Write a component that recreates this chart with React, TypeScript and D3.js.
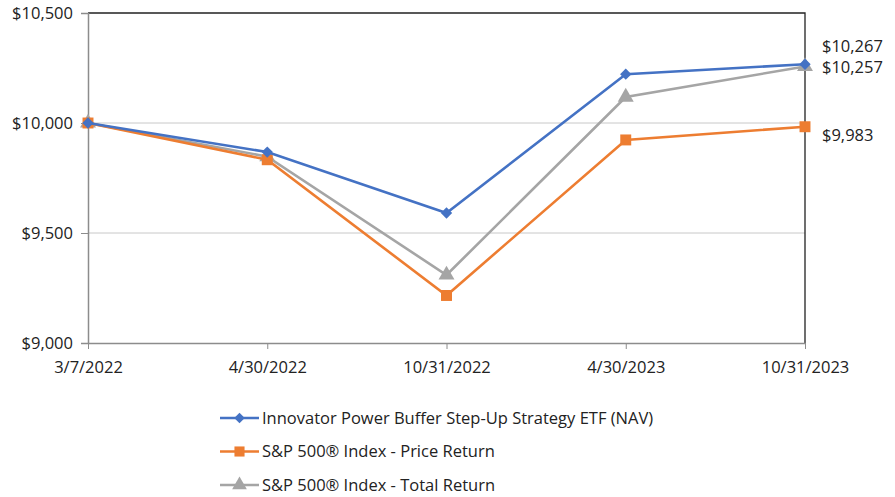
import * as d3 from 'd3';
import { useEffect, useRef } from 'react';

const dates = ['3/7/2022', '4/30/2022', '10/31/2022', '4/30/2023', '10/31/2023'];
const navValues = [10000, 9868, 9591, 10222, 10267];
const priceValues = [10000, 9833, 9216, 9923, 9983];
const totalValues = [10000, 9847, 9309, 10118, 10257];
const yTicks = [9000, 9500, 10000, 10500];
const seriesNames = [
    'Innovator Power Buffer Step-Up Strategy ETF (NAV)',
    'S&P 500® Index - Price Return',
    'S&P 500® Index - Total Return',
];
const seriesColors = ['#4472C4', '#ED7D31', '#A5A5A5'];
const seriesSymbols = [d3.symbolSquare, d3.symbolSquare, d3.symbolTriangle];
const seriesSizes = [64, 120, 110];
const seriesRotate = [45, 0, 0];

function App() {
    return <LineChart />;
}

const LineChart = () => {
    const svgRef = useRef<SVGSVGElement>(null);

    useEffect(() => {
        document.body.style.margin = '0';
        const w = 895;
        const h = 497;
        const left = 88;
        const right = 805;
        const top = 13;
        const bottom = 343;
        const font = "'Open Sans', 'Noto Sans', sans-serif";
        const fs = '16.5px';

        const svg = d3.select(svgRef.current);
        svg.selectAll('*').remove();
        svg.attr('width', w).attr('height', h).style('display', 'block');

        const x = d3.scalePoint<string>().domain(dates).range([left, right]);
        const y = d3.scaleLinear().domain([9000, 10500]).range([bottom, top]);

        // gridlines
        svg.append('g')
            .selectAll('line')
            .data(yTicks.slice(1, -1))
            .enter()
            .append('line')
            .attr('x1', left)
            .attr('x2', right)
            .attr('y1', (d) => y(d))
            .attr('y2', (d) => y(d))
            .attr('stroke', '#c8c8c8')
            .attr('stroke-width', 1);

        // frame top/right
        svg.append('path')
            .attr('d', `M${left},${top}H${right}V${bottom}`)
            .attr('fill', 'none')
            .attr('stroke', '#222')
            .attr('stroke-width', 1.3);

        const yAxis = d3
            .axisLeft(y)
            .tickValues(yTicks)
            .tickSize(7)
            .tickFormat((d) => '$' + d3.format(',')(d as number));
        const gy = svg.append('g').attr('transform', `translate(${left},0)`).call(yAxis);
        gy.select('.domain').attr('stroke', '#8c8c8c').attr('stroke-width', 1.5);
        gy.selectAll('.tick line').attr('stroke', '#8c8c8c');
        gy.selectAll('.tick text')
            .attr('x', -15)
            .attr('fill', '#222')
            .style('font-family', font)
            .style('font-size', fs);

        const xAxis = d3.axisBottom(x).tickSize(6).tickSizeOuter(0);
        const gx = svg.append('g').attr('transform', `translate(0,${bottom})`).call(xAxis);
        gx.select('.domain').attr('stroke', '#8c8c8c').attr('stroke-width', 1.5);
        gx.selectAll('.tick line').attr('stroke', '#8c8c8c');
        gx.selectAll('.tick text')
            .attr('y', 18)
            .attr('fill', '#222')
            .style('font-family', font)
            .style('font-size', fs);

        const allSeries = [navValues, priceValues, totalValues];
        const line = d3
            .line<number>()
            .x((_, i) => x(dates[i]) as number)
            .y((d) => y(d));

        // draw in order: total, price, nav so nav on top
        [2, 1, 0].forEach((si) => {
            const vals = allSeries[si];
            svg.append('path')
                .datum(vals)
                .attr('d', line)
                .attr('fill', 'none')
                .attr('stroke', seriesColors[si])
                .attr('stroke-width', 2.6);
            svg.append('g')
                .selectAll('path')
                .data(vals)
                .enter()
                .append('path')
                .attr('d', d3.symbol(seriesSymbols[si], seriesSizes[si]))
                .attr(
                    'transform',
                    (d, i) => `translate(${x(dates[i])},${y(d)}) rotate(${seriesRotate[si]})`
                )
                .attr('fill', seriesColors[si]);
        });

        // end labels
        const labelOffsets = [-18, 8, 1];
        allSeries.forEach((vals, si) => {
            const v = vals[vals.length - 1];
            svg.append('text')
                .attr('x', right + 17)
                .attr('y', y(v) + labelOffsets[si])
                .attr('dy', '0.35em')
                .attr('fill', '#222')
                .style('font-family', font)
                .style('font-size', fs)
                .text('$' + d3.format(',')(v));
        });

        // legend
        const legend = svg.append('g');
        seriesNames.forEach((name, si) => {
            const ly = 418 + si * 33.5;
            legend.append('line')
                .attr('x1', 220)
                .attr('x2', 259)
                .attr('y1', ly)
                .attr('y2', ly)
                .attr('stroke', seriesColors[si])
                .attr('stroke-width', 2.6);
            legend.append('path')
                .attr('d', d3.symbol(seriesSymbols[si], seriesSizes[si] * 0.85))
                .attr('transform', `translate(239.5,${ly}) rotate(${seriesRotate[si]})`)
                .attr('fill', seriesColors[si]);
            legend.append('text')
                .attr('x', 262)
                .attr('y', ly)
                .attr('dy', '0.35em')
                .attr('fill', '#222')
                .style('font-family', font)
                .style('font-size', fs)
                .text(name);
        });
    }, []);

    return <svg ref={svgRef}></svg>;
};

export default App;
